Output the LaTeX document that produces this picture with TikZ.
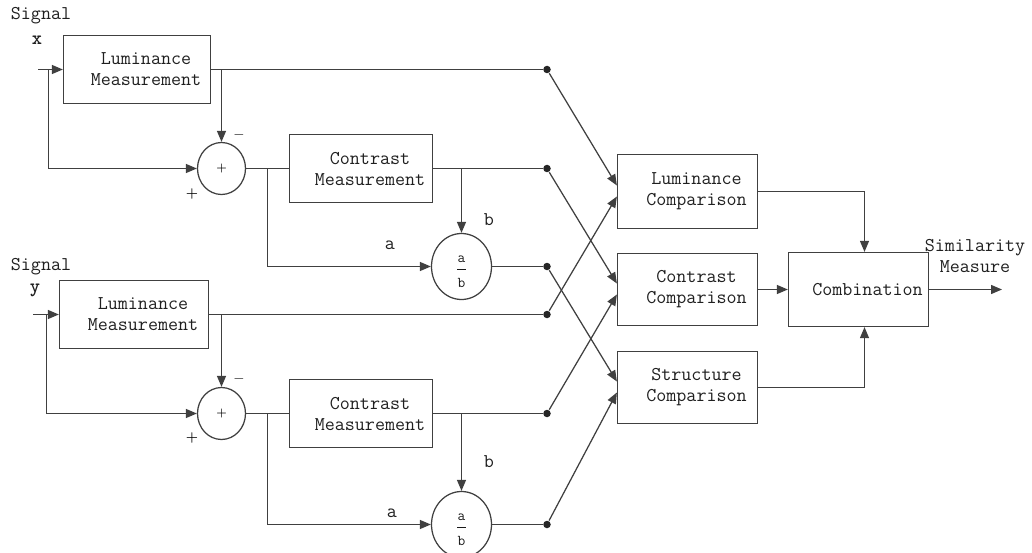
\documentclass[tikz,border=0pt]{standalone}
\usepackage{fontspec}
\usetikzlibrary{arrows.meta,shapes.geometric,calc}
\newcommand\twoline[2]{\hspace*{18pt}#1\\\hspace*{18pt}#2}
\newcommand\ratio{\rule{0pt}{17pt}a\\[-2.5pt]\rule{9pt}{0.9pt}\\[7pt]b}
\begin{document}
\begin{tikzpicture}[x=1pt,y=-1pt,
  line width=1.25pt,
  blk/.style={draw=black!75, rectangle, align=center, inner sep=0pt,
    font=\ttfamily\fontsize{19.5}{21}\selectfont, text=black!88},
  sumc/.style={draw=black!75, ellipse, minimum width=48pt, minimum height=52pt, inner sep=0pt,
    font=\bfseries\fontsize{12}{12}\selectfont, text=black},
  divc/.style={draw=black!75, ellipse, minimum width=60pt, minimum height=66pt,
    inner sep=0pt, text=black!90, align=center,
    font=\ttfamily\fontsize{15}{10}\selectfont},
  arr/.style={draw=black!75, -{Triangle[length=11pt,width=9pt]}},
  ln/.style={draw=black!75},
  dotc/.style={circle, fill=black!85, draw=none, minimum size=7.5pt, inner sep=0pt},
  lbl/.style={font=\ttfamily\fontsize{19.5}{21}\selectfont, text=black!88, align=center, inner sep=0pt},
  sgn/.style={font=\bfseries\fontsize{14}{14}\selectfont, text=black, inner sep=0pt}
]
\useasboundingbox (0,0) rectangle (1032,553);

% ---------- upper branch (signal x) ----------
\node[lbl] (sx) at (41,16) {Signal};
\node[lbl] (xl) at (37,40) {\bfseries x};
\node[blk, minimum width=147pt, minimum height=68pt] (lum1) at (137,69.5) {\twoline{Luminance}{Measurement}};
\node[sumc] (sum1) at (221.5,168.5) {+};
\node[blk, minimum width=143pt, minimum height=68pt] (con1) at (361,168.5) {\twoline{Contrast}{Measurement}};
\node[divc] (div1) at (461.5,266.5) {\ratio};
\node[sgn] (m1) at (239,135) {$-$};
\node[sgn] (p1) at (192,194) {+};
\node[lbl] (a1) at (390,245) {a};
\node[lbl] (b1) at (489,220) {b};

\coordinate (in1) at (38,69.5);
\coordinate (fb1) at (48.5,69.5);
\coordinate (br1) at (267.5,168.5);
\node[dotc] (d1) at (547,69.5) {};
\node[dotc] (d2) at (547,168.5) {};
\node[dotc] (d3) at (547,266.5) {};

\draw[arr] (in1) -- (lum1.west);
\draw[arr] (fb1) |- (sum1.west);
\draw[ln] (lum1.east) -- (d1);
\draw[arr] (sum1 |- lum1.east) -- (sum1.north);
\draw[ln] (sum1.east) -- (con1.west);
\draw[ln] (con1.east) -- (d2);
\draw[arr] (br1) |- (div1.west);
\draw[arr] (div1 |- con1.east) -- (div1.north);
\draw[ln] (div1.east) -- (d3);

% ---------- lower branch (signal y) ----------
\node[lbl] (sy) at (41,267) {Signal};
\node[lbl] (yl) at (35,290) {\bfseries y};
\node[blk, minimum width=149pt, minimum height=68pt] (lum2) at (134,314.5) {\twoline{Luminance}{Measurement}};
\node[sumc] (sum2) at (221.5,413.5) {+};
\node[blk, minimum width=143pt, minimum height=68pt] (con2) at (361,413.5) {\twoline{Contrast}{Measurement}};
\node[divc] (div2) at (461.5,524.5) {\ratio};
\node[sgn] (m2) at (239,379) {$-$};
\node[sgn] (p2) at (192,438) {+};
\node[lbl] (a2) at (392,513) {a};
\node[lbl] (b2) at (489,462) {b};

\coordinate (in2) at (33,314.5);
\coordinate (fb2) at (46.5,314.5);
\coordinate (br2) at (267.5,413.5);
\node[dotc] (d4) at (547,314.5) {};
\node[dotc] (d5) at (547,413.5) {};
\node[dotc] (d6) at (547,524.5) {};

\draw[arr] (in2) -- (lum2.west);
\draw[arr] (fb2) |- (sum2.west);
\draw[ln] (lum2.east) -- (d4);
\draw[arr] (sum2 |- lum2.east) -- (sum2.north);
\draw[ln] (sum2.east) -- (con2.west);
\draw[ln] (con2.east) -- (d5);
\draw[arr] (br2) |- (div2.west);
\draw[arr] (div2 |- con2.east) -- (div2.north);
\draw[ln] (div2.east) -- (d6);

% ---------- comparison stage ----------
\node[blk, minimum width=140pt, minimum height=74pt] (lc) at (687.5,191.5) {\twoline{Luminance}{Comparison}};
\node[blk, minimum width=140pt, minimum height=72pt] (cc) at (687.5,289.5) {\twoline{Contrast}{Comparison}};
\node[blk, minimum width=140pt, minimum height=72pt] (sc) at (687.5,387.5) {\twoline{Structure}{Comparison}};
\node[blk, minimum width=140pt, minimum height=74pt] (comb) at (858.5,289.5) {\hspace*{18pt}Combination};
\node[lbl] (sim) at (975,256) {Similarity\\Measure};
\coordinate (out) at (1002,289.5);

\draw[arr] (d1) -- ($(lc.west)+(0,-6)$);
\draw[arr] (d4) -- ($(lc.west)+(0,5)$);
\draw[arr] (d2) -- ($(cc.west)+(0,-6)$);
\draw[arr] (d5) -- ($(cc.west)+(0,5)$);
\draw[arr] (d3) -- ($(sc.west)+(0,-6)$);
\draw[arr] (d6) -- ($(sc.west)+(0,5)$);

\draw[arr] (lc.east) -| ($(comb.north)+(6,0)$);
\draw[arr] (cc.east) -- (comb.west);
\draw[arr] (sc.east) -| ($(comb.south)+(6,0)$);
\draw[arr] (comb.east) -- (out);
\end{tikzpicture}
\end{document}
